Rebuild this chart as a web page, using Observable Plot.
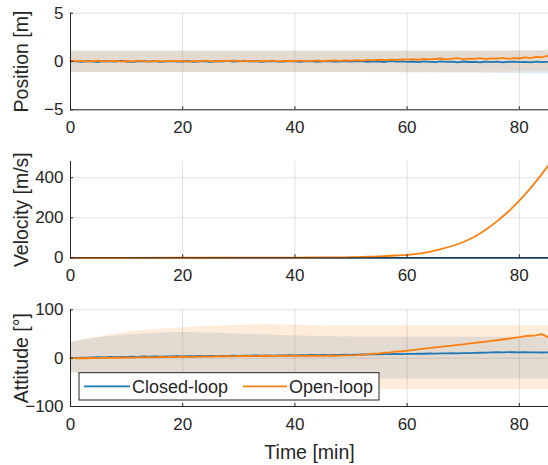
<!DOCTYPE html>
<html>
<head>
<meta charset="utf-8">
<script src="https://cdn.jsdelivr.net/npm/d3@7"></script>
<script src="https://cdn.jsdelivr.net/npm/@observablehq/plot@0.6"></script>
<style>
  body { margin: 0; background: #fff; }
  #chart { position: relative; width: 548px; height: 465px; overflow: hidden; background: #fff; }
  #chart svg { position: absolute; left: 0; }
</style>
</head>
<body>
<div id="chart"></div>
<script>
// ---- data ----
const xTicks = [0, 20, 40, 60, 80];
const xDomain = [0, 85.2];
const seriesNames = ["Closed-loop", "Open-loop"];
const colors = ["#1f77b4", "#ff7f0e"];

const times = [0,1,2,3,4,5,6,7,8,9,10,11,12,13,14,15,16,17,18,19,20,21,22,23,24,25,26,27,28,29,30,31,32,33,34,35,36,37,38,39,40,41,42,43,44,45,46,47,48,49,50,51,52,53,54,55,56,57,58,59,60,61,62,63,64,65,66,67,68,69,70,71,72,73,74,75,76,77,78,79,80,81,82,83,84,85,86];

// Position [m]
const posTicks = [-5, 0, 5];
const posDomain = [-5, 5];
const posClosed = [0.05,0.02,-0.03,0.04,0.00,-0.05,0.03,0.01,-0.02,0.06,0.00,-0.04,0.02,0.05,-0.01,0.03,-0.03,0.01,0.04,-0.02,0.00,0.05,-0.03,0.02,0.01,-0.04,0.03,0.00,0.06,-0.02,0.02,0.07,-0.01,0.03,-0.03,0.01,0.04,-0.02,0.00,0.05,0.02,-0.03,0.03,0.01,-0.04,0.02,0.05,-0.01,0.00,0.03,-0.02,0.04,0.01,-0.03,0.02,0.00,-0.05,0.03,-0.01,0.02,-0.04,0.00,-0.06,0.02,-0.03,-0.07,0.01,-0.04,-0.02,-0.08,0.00,-0.05,-0.03,-0.09,-0.01,-0.06,-0.02,-0.08,-0.04,-0.01,-0.07,-0.03,-0.09,-0.02,-0.06,-0.04,-0.08];
const posOpen = [0.10,0.03,0.06,-0.02,0.05,0.08,0.00,0.04,0.07,-0.01,0.05,0.02,0.08,0.03,-0.02,0.06,0.04,0.01,0.07,0.03,0.05,-0.01,0.06,0.02,0.08,0.04,0.00,0.06,0.03,0.09,0.05,0.02,0.07,0.01,0.06,0.04,0.08,0.02,0.05,0.07,0.03,0.09,0.04,0.06,0.10,0.05,0.08,0.11,0.06,0.12,0.09,0.14,0.10,0.16,0.12,0.18,0.15,0.20,0.17,0.23,0.19,0.25,0.18,0.28,0.22,0.26,0.31,0.21,0.29,0.35,0.24,0.30,0.27,0.36,0.25,0.33,0.29,0.38,0.27,0.34,0.31,0.42,0.36,0.48,0.44,0.58,0.65];
const posBandT = [0, 20, 40, 60, 75, 80, 86];
const posClosedHi = [1.05, 1.05, 1.05, 1.05, 1.05, 1.08, 1.1];
const posClosedLo = [-1.15, -1.15, -1.15, -1.17, -1.22, -1.27, -1.28];
const posOpenHi = [1.05, 1.05, 1.05, 1.06, 1.08, 1.1, 1.12];
const posOpenLo = [-1.15, -1.15, -1.14, -1.12, -1.09, -1.07, -1.06];

// Velocity [m/s]
const velTicks = [0, 200, 400];
const velDomain = [0, 481];
const velT = [0,10,20,30,35,40,45,48,50,52,54,56,58,60,62,64,66,68,70,72,74,76,78,80,82,84,85,86];
const velClosed = [0,0,0,0,0,0,0,0,0,0,0,0,0,0,0,0,0,0,0,0,0,0,0,0,0,0,0,0];
const velOpen = [0,0,0.2,0.5,0.8,1.2,1.8,2.4,3,4,6,8.5,11.5,15,21,30,43,59,79,105,140,182,230,285,348,418,455,492];

// Attitude [°]
const attTicks = [-100, 0, 100];
const attDomain = [-100, 100];
const attClosed = [0,0.5,1.2,0.8,1.5,2.0,1.6,2.4,2.1,2.8,2.5,3.1,2.7,3.4,3.0,3.6,3.2,3.8,3.5,4.1,3.7,4.2,3.9,4.5,4.1,4.7,4.3,4.9,4.6,5.2,4.8,5.4,5.0,5.6,5.2,5.8,5.4,5.9,5.6,6.1,5.8,6.3,6.0,6.5,6.2,6.7,6.4,6.9,6.6,7.1,6.8,7.3,7.5,7.8,8.1,7.9,8.4,8.2,8.7,8.5,9.0,8.8,9.3,9.1,9.6,9.4,9.9,9.7,10.2,10.0,10.5,10.3,10.9,11.2,11.6,12.0,12.4,12.1,12.6,12.2,11.8,12.3,11.9,12.1,11.7,12.0,11.6];
const attOpen = [0,-0.5,0.3,-0.2,0.6,0.2,0.9,0.5,1.2,0.8,1.5,1.1,1.8,1.4,2.1,1.7,2.4,2.0,2.7,2.3,3.0,2.6,3.3,2.9,3.6,3.2,3.9,3.5,4.2,3.8,4.5,4.1,4.6,4.3,4.8,4.4,4.9,4.5,5.0,4.6,5.0,4.7,5.1,4.8,5.2,4.9,5.3,5.0,5.4,5.6,5.9,6.4,7.2,8.0,9.1,10.0,11.2,12.1,13.4,14.3,15.6,16.8,18.0,19.5,20.7,22.3,23.4,24.9,26.0,27.6,28.7,30.2,31.4,32.9,34.1,35.8,37.0,38.6,40.1,41.9,43.5,45.5,46.3,47.2,49.6,44.0,42.0];
const attBandT = [0,5,10,15,20,25,30,35,40,45,50,55,60,65,70,75,80,86];
const attClosedHi = [33,42,48,51,53,52,50,48,46,45,44,43,43,43,43,43,43,43];
const attClosedLo = [-29,-36,-42,-45,-47,-47,-46,-45,-44,-43,-43,-43,-43,-43,-43,-43,-43,-43];
const attOpenHi = [32,44,53,59,63,66,68,69,68,67,67,67,67,67,67,67,67,67];
const attOpenLo = [-29,-38,-47,-53,-57,-60,-62,-63,-64,-64,-65,-65,-65,-65,-65,-65,-65,-65];

// ---- helpers ----
const FONT = "'Liberation Sans', Arial, Helvetica, sans-serif";
const TXT = "#262626";
const rows = (ts, vs) => ts.map((t, i) => ({t, v: vs[i]})).filter(d => d.v !== undefined);
const bandRows = (ts, lo, hi) => ts.map((t, i) => ({t, lo: lo[i], hi: hi[i]}));

function panel({top, height, marginTop, marginBottom, yDomain, yTicks, label, bands, lines, xLabel}) {
  const marks = [
    Plot.gridX(xTicks, {stroke: "#000", strokeOpacity: 0.12}),
    Plot.gridY(yTicks, {stroke: "#000", strokeOpacity: 0.12}),
    ...bands.map(b => Plot.areaY(b.data, {x: "t", y1: "lo", y2: "hi", fill: b.color, fillOpacity: 0.15, curve: "monotone-x"})),
    ...lines.map(l => Plot.lineY(l.data, {x: "t", y: "v", stroke: l.color, strokeWidth: 1.8, curve: l.curve || "linear"})),
    Plot.ruleX([xDomain[0]], {stroke: TXT, strokeWidth: 1}),
    Plot.ruleY([yDomain[0]], {stroke: TXT, strokeWidth: 1}),
    Plot.axisX(xTicks, {tickSize: 0, tickPadding: 11, label: null, fontSize: 17, fill: TXT}),
    Plot.axisX(xTicks, {tickSize: 3, dy: -3, text: null, label: null, stroke: TXT}),
    Plot.axisY(yTicks, {tickSize: 0, tickPadding: 7, label: null, fontSize: 17, fill: TXT}),
    Plot.axisY(yTicks, {tickSize: 3, dx: 3, text: null, label: null, stroke: TXT}),
    Plot.text([label], {frameAnchor: "left", rotate: -90, dx: -49, fontSize: 19.5, fill: TXT, lineAnchor: "middle", textAnchor: "middle"})
  ];
  if (xLabel) {
    marks.push(Plot.text([xLabel], {frameAnchor: "bottom", dy: 46, fontSize: 19.5, fill: TXT, lineAnchor: "middle"}));
  }
  const svg = Plot.plot({
    width: 548, height,
    marginLeft: 70, marginRight: 0, marginTop, marginBottom,
    style: {fontFamily: FONT, fontSize: "17px", color: TXT, background: "transparent", overflow: "visible"},
    x: {domain: xDomain},
    y: {domain: yDomain},
    clip: false,
    marks
  });
  svg.style.top = top + "px";
  return svg;
}

const chart = document.getElementById("chart");

chart.appendChild(panel({
  top: 0, height: 150, marginTop: 12.7, marginBottom: 40.7,
  yDomain: posDomain, yTicks: posTicks, label: "Position [m]",
  bands: [
    {data: bandRows(posBandT, posClosedLo, posClosedHi), color: colors[0]},
    {data: bandRows(posBandT, posOpenLo, posOpenHi), color: colors[1]}
  ],
  lines: [
    {data: rows(times, posClosed), color: colors[0]},
    {data: rows(times, posOpen), color: colors[1]}
  ]
}));

chart.appendChild(panel({
  top: 150, height: 150, marginTop: 11, marginBottom: 42.7,
  yDomain: velDomain, yTicks: velTicks, label: "Velocity [m/s]",
  bands: [],
  lines: [
    {data: rows(velT, velClosed), color: colors[0]},
    {data: rows(velT, velOpen), color: colors[1], curve: "monotone-x"}
  ]
}));

chart.appendChild(panel({
  top: 300, height: 165, marginTop: 9.3, marginBottom: 59,
  yDomain: attDomain, yTicks: attTicks, label: "Attitude [°]",
  bands: [
    {data: bandRows(attBandT, attClosedLo, attClosedHi), color: colors[0]},
    {data: bandRows(attBandT, attOpenLo, attOpenHi), color: colors[1]}
  ],
  lines: [
    {data: rows(times, attClosed), color: colors[0]},
    {data: rows(times, attOpen), color: colors[1]}
  ],
  xLabel: "Time [min]"
}));

// legend
const legendW = 300, legendH = 27.3;
const leg = d3.create("svg")
  .attr("width", legendW + 2).attr("height", legendH + 2)
  .style("position", "absolute").style("left", "78px").style("top", "372px");
leg.append("rect").attr("x", 1).attr("y", 0.7).attr("width", legendW).attr("height", legendH)
  .attr("fill", "#fff").attr("stroke", TXT).attr("stroke-width", 1);
const items = [{x0: 6, x1: 52, tx: 54}, {x0: 165, x1: 209, tx: 211}];
seriesNames.forEach((name, i) => {
  const it = items[i];
  leg.append("line").attr("x1", it.x0).attr("x2", it.x1).attr("y1", 14.3).attr("y2", 14.3)
    .attr("stroke", colors[i]).attr("stroke-width", 1.8);
  leg.append("text").attr("x", it.tx).attr("y", 14.3).attr("dy", "0.35em")
    .attr("font-family", FONT).attr("font-size", 18).attr("fill", TXT).text(name);
});
chart.appendChild(leg.node());
</script>
</body>
</html>
